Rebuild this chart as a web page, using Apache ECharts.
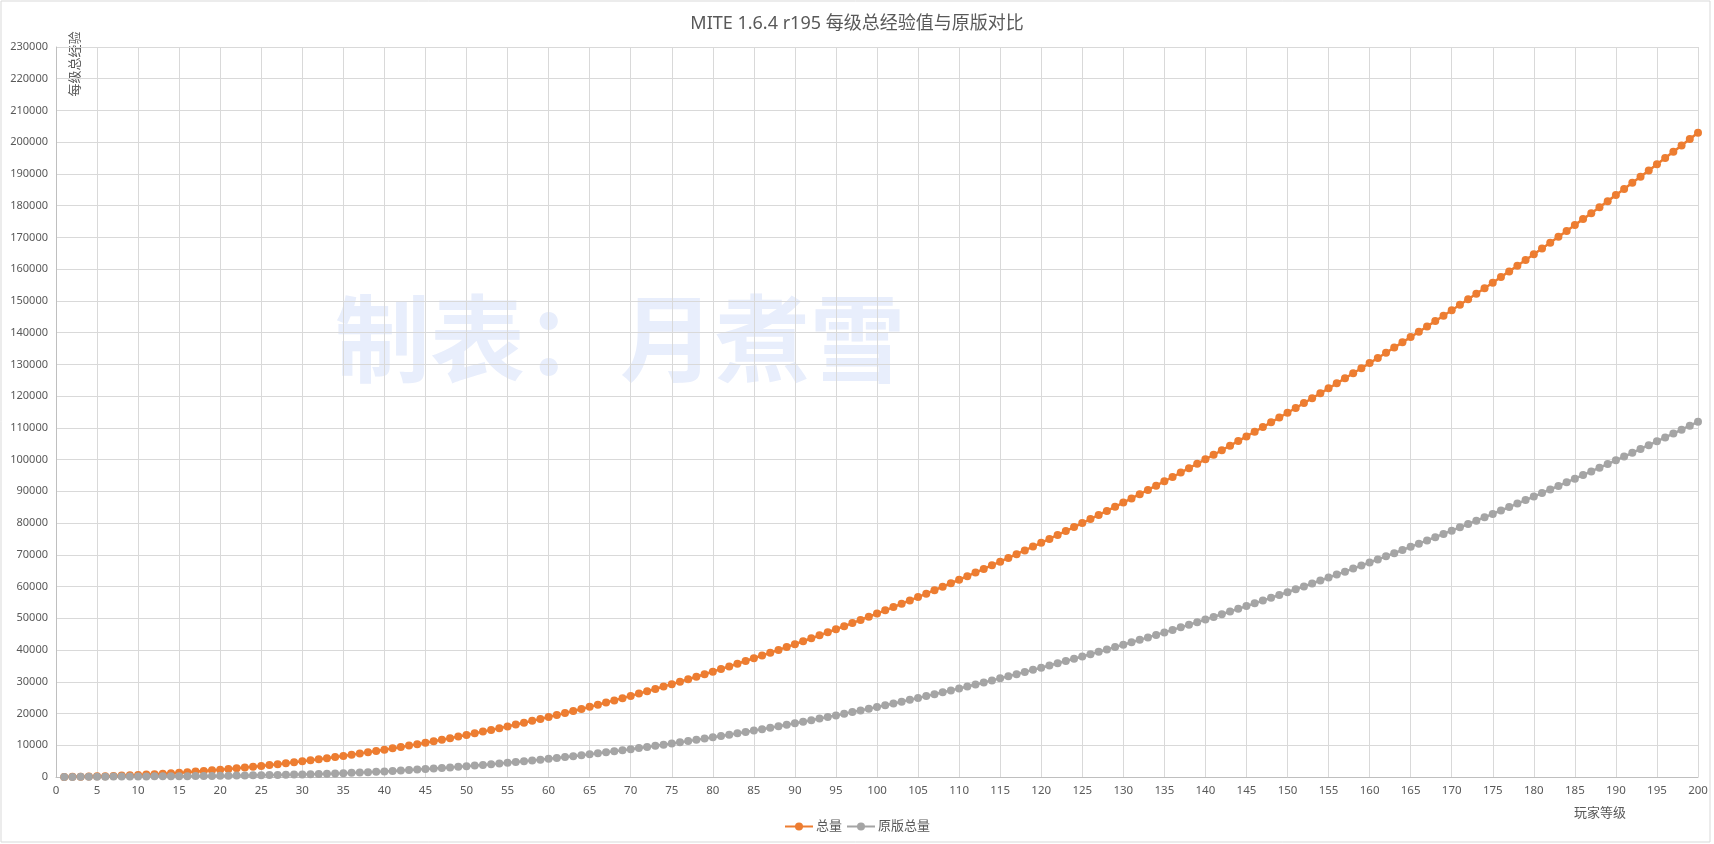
<!DOCTYPE html>
<html>
<head>
<meta charset="utf-8">
<script src="https://cdn.jsdelivr.net/npm/echarts@6/dist/echarts.min.js"></script>
<style>html,body{margin:0;padding:0;background:#fff}#c{width:1714px;height:844px}</style>
</head>
<body>
<div id="c"></div>
<script>
var levels = [1,2,3,4,5,6,7,8,9,10,11,12,13,14,15,16,17,18,19,20,21,22,23,24,25,26,27,28,29,30,31,32,33,34,35,36,37,38,39,40,41,42,43,44,45,46,47,48,49,50,51,52,53,54,55,56,57,58,59,60,61,62,63,64,65,66,67,68,69,70,71,72,73,74,75,76,77,78,79,80,81,82,83,84,85,86,87,88,89,90,91,92,93,94,95,96,97,98,99,100,101,102,103,104,105,106,107,108,109,110,111,112,113,114,115,116,117,118,119,120,121,122,123,124,125,126,127,128,129,130,131,132,133,134,135,136,137,138,139,140,141,142,143,144,145,146,147,148,149,150,151,152,153,154,155,156,157,158,159,160,161,162,163,164,165,166,167,168,169,170,171,172,173,174,175,176,177,178,179,180,181,182,183,184,185,186,187,188,189,190,191,192,193,194,195,196,197,198,199,200];

var totalMite = [20,50,90,140,200,270,350,440,540,650,770,900,1040,1190,1350,1520,1700,1890,2090,2300,2520,2750,2990,3240,3500,3770,4050,4340,4640,4950,5270,5600,5940,6290,6650,7020,7400,7790,8190,8600,9020,9450,9890,10340,10800,11270,11750,12240,12740,13250,13770,14300,14840,15390,15950,16520,17100,17690,18290,18900,19520,20150,20790,21440,22100,22770,23450,24140,24840,25550,26270,27000,27740,28490,29250,30020,30800,31590,32390,33200,34020,34850,35690,36540,37400,38270,39150,40040,40940,41850,42770,43700,44640,45590,46550,47520,48500,49490,50490,51500,52520,53550,54590,55640,56700,57770,58850,59940,61040,62150,63270,64400,65540,66690,67850,69020,70200,71390,72590,73800,75020,76250,77490,78740,80000,81270,82550,83840,85140,86450,87770,89100,90440,91790,93150,94520,95900,97290,98690,100100,101520,102950,104390,105840,107300,108770,110250,111740,113240,114750,116270,117800,119340,120890,122450,124020,125600,127190,128790,130400,132020,133650,135290,136940,138600,140270,141950,143640,145340,147050,148770,150500,152240,153990,155750,157520,159300,161090,162890,164700,166520,168350,170190,172040,173900,175770,177650,179540,181440,183350,185270,187200,189140,191090,193050,195020,197000,198990,200990,203000];

var totalVanilla = [17,34,51,68,85,102,119,136,153,170,187,204,221,238,255,272,292,315,341,370,402,437,475,516,560,607,657,710,766,825,887,956,1032,1115,1205,1302,1406,1517,1635,1760,1892,2031,2177,2330,2490,2657,2831,3012,3200,3395,3597,3806,4022,4245,4475,4712,4956,5207,5465,5730,6002,6281,6567,6860,7160,7467,7781,8102,8430,8765,9107,9456,9812,10175,10545,10922,11306,11697,12095,12500,12912,13331,13757,14190,14630,15077,15531,15992,16460,16935,17417,17906,18402,18905,19415,19932,20456,20987,21525,22070,22622,23181,23747,24320,24900,25487,26081,26682,27290,27905,28527,29156,29792,30435,31085,31742,32406,33077,33755,34440,35132,35831,36537,37250,37970,38697,39431,40172,40920,41675,42437,43206,43982,44765,45555,46352,47156,47967,48785,49610,50442,51281,52127,52980,53840,54707,55581,56462,57350,58245,59147,60056,60972,61895,62825,63762,64706,65657,66615,67580,68552,69531,70517,71510,72510,73517,74531,75552,76580,77615,78657,79706,80762,81825,82895,83972,85056,86147,87245,88350,89462,90581,91707,92840,93980,95127,96281,97442,98610,99785,100967,102156,103352,104555,105765,106982,108206,109437,110675,111920];

var seriesNames = ['总量', '原版总量'];
var titleText = 'MITE 1.6.4 r195 每级总经验值与原版对比';
var xAxisName = '玩家等级';
var yAxisName = '每级总经验';
var watermark = '制表：月煮雪';

var FONT = '"Noto Sans", "Noto Sans CJK SC", sans-serif';
var chart = echarts.init(document.getElementById('c'), null, {renderer: 'canvas'});

function pairs(vals) { return levels.map(function (l, i) { return [l, vals[i]]; }); }

chart.setOption({
  animation: false,
  backgroundColor: '#fff',
  textStyle: {fontFamily: FONT},
  title: {
    text: titleText, left: 'center', top: 10,
    textStyle: {fontSize: 18, fontWeight: 'normal', color: '#595959', fontFamily: FONT}
  },
  legend: {
    data: seriesNames, left: 'center', top: 815, itemWidth: 28, itemHeight: 10, itemGap: 4,
    textStyle: {fontSize: 13, color: '#595959', fontFamily: FONT, padding: [0, 0, 0, -2]}
  },
  grid: {left: 56, right: 16, top: 47, bottom: 67, containLabel: false},
  xAxis: {
    type: 'value', min: 0, max: 200, interval: 5,
    axisLine: {show: true, lineStyle: {color: '#BFBFBF', width: 1}},
    axisTick: {show: false},
    axisLabel: {color: '#595959', fontSize: 11.5, margin: 8, fontFamily: FONT},
    splitLine: {show: true, lineStyle: {color: '#D9D9D9', width: 1}}
  },
  yAxis: {
    type: 'value', min: 0, max: 230000, interval: 10000,
    axisLine: {show: true, lineStyle: {color: '#BFBFBF', width: 1}},
    axisTick: {show: false},
    axisLabel: {color: '#595959', fontSize: 11, margin: 8, fontFamily: FONT,
      formatter: function (v) { return String(v); }},
    splitLine: {show: true, lineStyle: {color: '#D9D9D9', width: 1}}
  },
  graphic: [
    {type: 'rect', z: -20, silent: true, shape: {x: 1, y: 1, width: 1709, height: 841},
      style: {fill: 'none', stroke: '#D9D9D9', lineWidth: 1}},
    {type: 'text', z: -10, silent: true, x: 620, y: 339,
      style: {text: watermark, fill: '#E8EEFC', font: 'bold 95px "Noto Sans CJK SC", sans-serif',
        align: 'center', verticalAlign: 'middle'}},
    {type: 'text', silent: true, x: 1600, y: 812,
      style: {text: xAxisName, fill: '#595959', font: '13px "Noto Sans CJK SC", sans-serif',
        align: 'center', verticalAlign: 'middle'}},
    {type: 'text', silent: true, x: 74, y: 64, rotation: Math.PI / 2,
      style: {text: yAxisName, fill: '#595959', font: '13px "Noto Sans CJK SC", sans-serif',
        align: 'center', verticalAlign: 'middle'}}
  ],
  series: [
    {name: seriesNames[0], type: 'line', data: pairs(totalMite), symbol: 'circle', symbolSize: 8,
      showAllSymbol: true, color: '#ED7D31', lineStyle: {width: 2.5, color: '#ED7D31'},
      itemStyle: {color: '#ED7D31'}},
    {name: seriesNames[1], type: 'line', data: pairs(totalVanilla), symbol: 'circle', symbolSize: 8,
      showAllSymbol: true, color: '#A5A5A5', lineStyle: {width: 2.5, color: '#A5A5A5'},
      itemStyle: {color: '#A5A5A5'}}
  ]
});
</script>
</body>
</html>
